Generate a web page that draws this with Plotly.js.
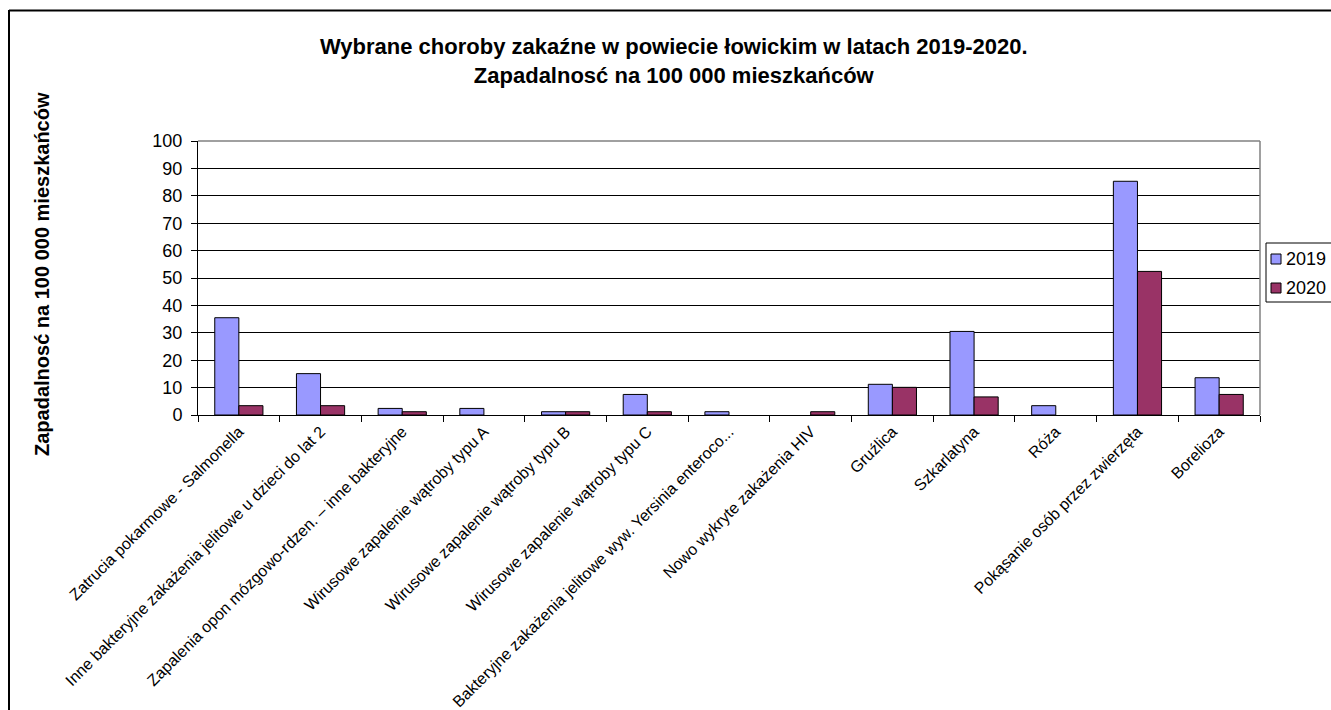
<!DOCTYPE html>
<html>
<head>
<meta charset="utf-8">
<script src="https://cdn.plot.ly/plotly-3.0.1.min.js"></script>
<style>html,body{margin:0;padding:0;background:#fff;overflow:hidden;}#chart{width:1331px;height:710px;}</style>
</head>
<body>
<div id="chart"></div>
<script>
const categories = [
  "Zatrucia pokarmowe - Salmonella",
  "Inne bakteryjne zakażenia jelitowe u dzieci do lat 2",
  "Zapalenia opon mózgowo-rdzen. – inne bakteryjne",
  "Wirusowe zapalenie wątroby typu A",
  "Wirusowe zapalenie wątroby typu B",
  "Wirusowe zapalenie wątroby typu C",
  "Bakteryjne zakażenia jelitowe wyw. Yersinia enteroco...",
  "Nowo wykryte zakażenia HIV",
  "Gruźlica",
  "Szkarlatyna",
  "Róża",
  "Pokąsanie osób przez zwierzęta",
  "Borelioza"
];
const values2019 = [35.5, 15.1, 2.4, 2.4, 1.2, 7.5, 1.2, 0, 11.2, 30.5, 3.4, 85.3, 13.6];
const values2020 = [3.4, 3.4, 1.2, 0, 1.2, 1.2, 0, 1.2, 10.1, 6.6, 0, 52.4, 7.5];
const seriesNames = ["2019", "2020"];
const seriesColors = ["#9999FF", "#993366"];
const yTicks = [0,10,20,30,40,50,60,70,80,90,100];

const FONT = "Arial, 'Liberation Sans', sans-serif";
const L = 198, R = 71, T = 141, B = 295, W = 1331, H = 710;
const pw = W - L - R, ph = H - T - B;
const px = x => (x - L) / pw;
const py = y => (H - B - y) / ph;
const outline = vals => vals.map(v => v > 0 ? 1 : 0);
const hline = (x0, x1, y, color, w) => ({type: "line", xref: "paper", yref: "paper",
  x0: px(x0), x1: px(x1), y0: py(y), y1: py(y), line: {color: color, width: w}, layer: "above"});
const vline = (x, y0, y1, color, w) => ({type: "line", xref: "paper", yref: "paper",
  x0: px(x), x1: px(x), y0: py(y0), y1: py(y1), line: {color: color, width: w}, layer: "above"});

const traces = [
  {type: "bar", name: seriesNames[0], x: categories, y: values2019,
   marker: {color: seriesColors[0], line: {color: "#000", width: outline(values2019)}}},
  {type: "bar", name: seriesNames[1], x: categories, y: values2020,
   marker: {color: seriesColors[1], line: {color: "#000", width: outline(values2020)}}}
];

// legend built as shapes + text (the reference legend box is clipped at the right edge)
const legendShapes = [
  hline(1266, 1331, 243, "#000", 1),
  hline(1266, 1331, 302, "#000", 1),
  vline(1266, 243, 302, "#000", 1)
];
const legendTexts = [];
seriesNames.forEach((n, i) => {
  const cy = 259 + i * 29;
  legendShapes.push({type: "rect", xref: "paper", yref: "paper",
    x0: px(1271), x1: px(1281), y0: py(cy + 5), y1: py(cy - 5),
    line: {color: "#000", width: 1}, fillcolor: seriesColors[i], layer: "above"});
  legendTexts.push({xref: "paper", yref: "paper", x: px(1284), y: py(cy), xanchor: "left", yanchor: "middle",
    text: n, showarrow: false, font: {size: 18, family: FONT, color: "#000"}});
});

const layout = {
  width: W, height: H,
  margin: {l: L, r: R, t: T, b: B, pad: 0, autoexpand: false},
  paper_bgcolor: "#fff", plot_bgcolor: "#fff",
  font: {family: FONT, color: "#000"},
  barmode: "group", bargap: 0.41, bargroupgap: 0,
  showlegend: false,
  xaxis: {type: "category", tickangle: -45, tickfont: {size: 16, family: FONT},
          tickson: "boundaries", ticks: "outside", ticklen: 6, tickcolor: "#000",
          showline: true, linecolor: "#000", linewidth: 1, showgrid: false,
          automargin: false, fixedrange: true},
  yaxis: {range: [0, 100], tickvals: yTicks, ticktext: yTicks.map(String),
          tickfont: {size: 18, family: FONT}, ticks: "outside", ticklen: 6, tickcolor: "#000",
          ticklabelstandoff: 5,
          showline: true, linecolor: "#000", linewidth: 1,
          showgrid: true, gridcolor: "#000", gridwidth: 1, zeroline: false,
          automargin: false, fixedrange: true},
  annotations: [
    {xref: "paper", yref: "paper", x: px(674), y: py(61), xanchor: "center", yanchor: "middle",
     text: "<b>Wybrane choroby zakaźne w powiecie łowickim w latach 2019-2020.<br>Zapadalnosć na 100 000 mieszkańców</b>",
     showarrow: false, font: {size: 22, family: FONT, color: "#000"}},
    {xref: "paper", yref: "paper", x: px(42), y: py(274), xanchor: "center", yanchor: "middle",
     textangle: -90, text: "<b>Zapadalnosć na 100 000 mieszkańców</b>",
     showarrow: false, font: {size: 20, family: FONT, color: "#000"}}
  ].concat(legendTexts),
  shapes: [
    hline(198, 1260, 141, "#808080", 1.5),
    vline(1260, 141, 415, "#808080", 1.5),
    hline(9, 1331, 10.5, "#000", 2),
    vline(9, 10, 710, "#000", 2)
  ].concat(legendShapes)
};

Plotly.newPlot("chart", traces, layout, {displayModeBar: false, staticPlot: true});
</script>
</body>
</html>
